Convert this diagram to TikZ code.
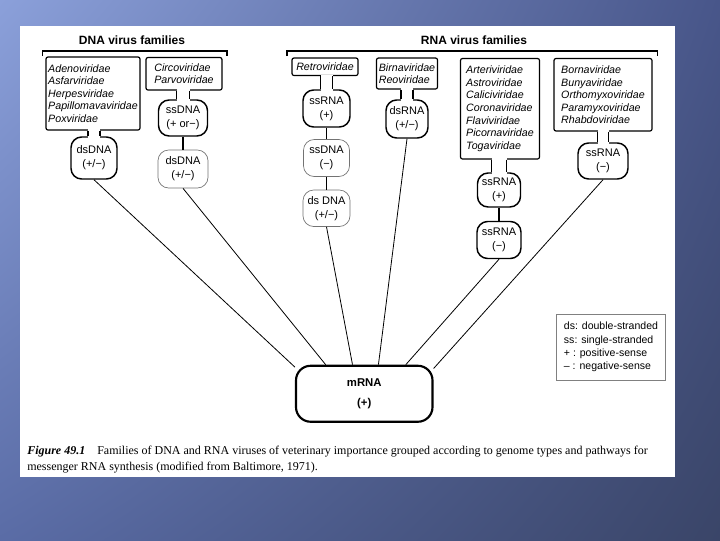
\documentclass[tikz,border=0pt]{standalone}
\usepackage{fontspec}
\setmainfont{Liberation Serif}
\setsansfont{Liberation Sans}
\newfontfamily\hv{Liberation Sans}
\usetikzlibrary{calc,shadings}
\definecolor{bgUL}{HTML}{8BA0DA}
\definecolor{bgUR}{HTML}{48568A}
\definecolor{bgLL}{HTML}{5A6CA6}
\definecolor{bgLR}{HTML}{3A4568}
\newcommand\mkneck[3]{%
  \fill[white] ($(#2.north |- #1.south)+(-#3,-1.5)$) rectangle ($(#2.north)+(#3,1.5)$);
  \draw[necklines] ($(#2.north |- #1.south)+(-#3,0)$) -- ($(#2.north)+(-#3,0)$)
                   ($(#2.north |- #1.south)+(#3,0)$) -- ($(#2.north)+(#3,0)$);}
\begin{document}
\begin{tikzpicture}[x=0.75pt,y=-0.75pt,
  fam/.style={draw, line width=0.9pt, fill=white, rounded corners=1.5pt, align=left, inner sep=0pt,
              font=\hv\itshape\fontsize{8}{9.4}\selectfont},
  gen/.style={draw, line width=1.1pt, fill=white, rounded corners=8pt, align=center, inner sep=0pt,
              font=\hv\fontsize{8.25}{10.5}\selectfont},
  genthin/.style={gen, draw=black!55, line width=0.5pt},
  link/.style={line width=0.6pt},
  vlink/.style={line width=1pt},
  necklines/.style={line width=0.9pt},
  bracket/.style={line width=1.1pt},
  sz/.style 2 args={minimum width=#1*0.75pt, minimum height=#2*0.75pt},
  ttl/.style={font=\hv\bfseries\fontsize{9}{11}\selectfont, inner sep=0pt},
  captxt/.style={anchor=base west, inner sep=0pt, font=\fontsize{9}{11}\selectfont},
]
\useasboundingbox (0,0) rectangle (720,540);
\shade[upper left=bgUL, upper right=bgUR, lower left=bgLL, lower right=bgLR] (0,0) rectangle (720,540);
\fill[white] (20,26) rectangle (675,477);

% titles and brackets
\node[ttl] (tdna) at (132,40) {DNA virus families};
\node[ttl] (trna) at (474,40) {RNA virus families};
\draw[bracket] (42.5,56) -- (42.5,51) -- (227,51) -- (227,56);
\draw[bracket] (287,56) -- (287,51) -- (657.5,51) -- (657.5,56);

% DNA side
\node[fam, sz={94}{73}] (famA) at (93,93.5) {Adenoviridae\\Asfarviridae\\Herpesviridae\\Papillomavaviridae\\Poxviridae};
\node[fam, sz={76}{32.5}] (famB) at (184,73.75) {Circoviridae\\Parvoviridae};
\node[gen, sz={46}{42}] (dsdnaA) at (94,158) {dsDNA\\(+/−)};
\node[gen, sz={49}{36}] (ssdnaB) at (183,118) {ssDNA\\(+ or−)};
\node[genthin, sz={50}{38}] (dsdnaB) at (183,169) {dsDNA\\(+/−)};

% RNA side
\node[fam, sz={66}{17.5}] (famR) at (325,66.75) {Retroviridae};
\node[gen, sz={47}{37}] (ssrnaR) at (326.5,108.5) {ssRNA\\(+)};
\node[genthin, sz={46}{37}] (ssdnaR) at (326.5,158) {ssDNA\\(−)};
\node[genthin, sz={47}{36.5}] (dsdnaR) at (326.5,208.25) {ds DNA\\(+/−)};

\node[fam, sz={61}{31}] (famBi) at (407,73.5) {Birnaviridae\\Reoviridae};
\node[gen, sz={42}{38}] (dsrna) at (407,119) {dsRNA\\(+/−)};

\node[fam, sz={79}{100.5}] (famAr) at (500,108.75) {Arteriviridae\\Astroviridae\\Caliciviridae\\Coronaviridae\\Flaviviridae\\Picornaviridae\\Togaviridae};
\node[gen, sz={43}{34}] (ssrnaP) at (499,190) {ssRNA\\(+)};
\node[gen, sz={44}{37}] (ssrnaM) at (499,240) {ssRNA\\(−)};

\node[fam, sz={98}{72.5}] (famBo) at (603,94.75) {Bornaviridae\\Bunyaviridae\\Orthomyxoviridae\\Paramyxoviridae\\Rhabdoviridae};
\node[gen, sz={50}{36}] (ssrnaN) at (603,161) {ssRNA\\(−)};

% mRNA
\node[gen, line width=1.6pt, rounded corners=11pt, sz={136.5}{56},
      font=\hv\bfseries\fontsize{8.5}{14.8}\selectfont] (mrna) at (364.25,393.75) {mRNA\\(+)};

% necks
\mkneck{famA}{dsdnaA}{6}
\mkneck{famB}{ssdnaB}{6.5}
\mkneck{famR}{ssrnaR}{6}
\mkneck{famBi}{dsrna}{6}
\mkneck{famAr}{ssrnaP}{7.5}
\mkneck{famBo}{ssrnaN}{5.5}

% vertical links
\draw[vlink] (ssdnaB.south) -- (dsdnaB.north);
\draw[vlink] (ssrnaR.south) -- (ssdnaR.north);
\draw[vlink] (ssdnaR.south) -- (dsdnaR.north);
\draw[vlink] (ssrnaP.south) -- (ssrnaM.north);

% links to mRNA
\draw[link] (dsdnaA.south) -- (mrna.159.5);
\draw[link] (dsdnaB.south) -- (mrna.143.8);
\draw[link] (dsdnaR.south) -- (mrna.112.5);
\draw[link] (dsrna.south) -- (mrna.64.8);
\draw[link] (ssrnaM.south) -- (mrna.35.1);
\draw[link] (ssrnaN.south) -- (mrna.20);

% legend
\node[draw=black!50, line width=0.4pt, sz={109}{66}, align=left, inner sep=0pt,
      font=\hv\fontsize{7.9}{10}\selectfont] (legend) at (611,347)
  {ds: double-stranded\\ss: single-stranded\\+ : positive-sense\\– : negative-sense};

% caption
\node[captxt] (cap1) at (27,454) {\textbf{\textit{Figure 49.1}}\quad Families of DNA and RNA viruses of veterinary importance grouped according to genome types and pathways for};
\node[captxt] (cap2) at (27,470) {messenger RNA synthesis (modified from Baltimore, 1971).};
\end{tikzpicture}
\end{document}
